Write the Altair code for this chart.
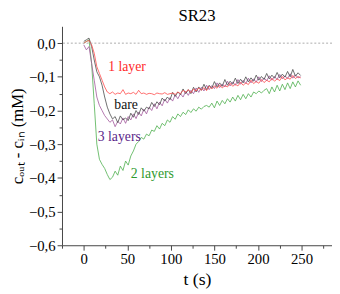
import altair as alt
import pandas as pd

t = list(range(0, 252, 3))

one_layer = [
    0.000, 0.005, 0.008, -0.005, -0.030, -0.070, -0.090, -0.110, -0.130, -0.145,
    -0.150, -0.145, -0.152, -0.148, -0.150, -0.138, -0.152, -0.148, -0.150, -0.146,
    -0.152, -0.140, -0.150, -0.148, -0.152, -0.149, -0.150, -0.153, -0.148, -0.150,
    -0.151, -0.147, -0.152, -0.150, -0.148, -0.152, -0.145, -0.150, -0.140, -0.146,
    -0.138, -0.147, -0.136, -0.142, -0.133, -0.140, -0.132, -0.141, -0.128, -0.136,
    -0.127, -0.134, -0.124, -0.133, -0.126, -0.130, -0.119, -0.128, -0.122, -0.127,
    -0.116, -0.125, -0.118, -0.123, -0.110, -0.120, -0.114, -0.119, -0.108, -0.117,
    -0.110, -0.115, -0.104, -0.113, -0.106, -0.111, -0.099, -0.109, -0.103, -0.107,
    -0.096, -0.105, -0.099, -0.103,
]

bare = [
    0.005, 0.010, 0.015, -0.010, -0.050, -0.085, -0.100, -0.125, -0.160, -0.190,
    -0.210, -0.225, -0.218, -0.236, -0.216, -0.228, -0.222, -0.230, -0.208, -0.220,
    -0.200, -0.212, -0.192, -0.202, -0.190, -0.195, -0.176, -0.188, -0.174, -0.183,
    -0.163, -0.172, -0.160, -0.168, -0.146, -0.158, -0.145, -0.153, -0.136, -0.150,
    -0.138, -0.150, -0.131, -0.145, -0.130, -0.140, -0.122, -0.138, -0.125, -0.134,
    -0.114, -0.130, -0.118, -0.128, -0.108, -0.125, -0.113, -0.122, -0.104, -0.120,
    -0.107, -0.118, -0.100, -0.115, -0.103, -0.113, -0.095, -0.110, -0.099, -0.108,
    -0.090, -0.106, -0.095, -0.104, -0.087, -0.103, -0.092, -0.101, -0.084, -0.100,
    -0.078, -0.098, -0.088, -0.096,
]

three_layers = [
    -0.005, -0.020, -0.010, -0.060, -0.110, -0.160, -0.185, -0.200, -0.215, -0.225,
    -0.235, -0.228, -0.248, -0.232, -0.240, -0.222, -0.238, -0.218, -0.228, -0.210,
    -0.224, -0.205, -0.216, -0.196, -0.210, -0.190, -0.200, -0.180, -0.195, -0.175,
    -0.186, -0.166, -0.178, -0.162, -0.172, -0.153, -0.165, -0.150, -0.160, -0.143,
    -0.155, -0.140, -0.150, -0.133, -0.146, -0.131, -0.142, -0.125, -0.138, -0.126,
    -0.135, -0.118, -0.132, -0.121, -0.130, -0.113, -0.127, -0.115, -0.125, -0.108,
    -0.122, -0.110, -0.120, -0.104, -0.118, -0.106, -0.116, -0.100, -0.114, -0.103,
    -0.112, -0.097, -0.110, -0.099, -0.108, -0.093, -0.106, -0.097, -0.105, -0.091,
    -0.104, -0.094, -0.103, -0.100,
]

two_layers = [
    0.000, 0.005, 0.010, -0.060, -0.180, -0.300, -0.345, -0.360, -0.372, -0.390,
    -0.405, -0.398, -0.380, -0.392, -0.365, -0.378, -0.350, -0.362, -0.335, -0.320,
    -0.300, -0.292, -0.280, -0.285, -0.270, -0.275, -0.258, -0.262, -0.245, -0.255,
    -0.238, -0.245, -0.228, -0.235, -0.218, -0.226, -0.210, -0.218, -0.205, -0.212,
    -0.198, -0.206, -0.195, -0.202, -0.190, -0.196, -0.188, -0.185, -0.190, -0.178,
    -0.192, -0.172, -0.185, -0.170, -0.180, -0.165, -0.175, -0.160, -0.172, -0.155,
    -0.168, -0.152, -0.165, -0.150, -0.160, -0.145, -0.150, -0.142, -0.148, -0.140,
    -0.135, -0.150, -0.130, -0.145, -0.125, -0.142, -0.122, -0.138, -0.118, -0.135,
    -0.115, -0.130, -0.112, -0.125,
]

series_names = ["2 layers", "3 layers", "bare", "1 layer"]
line_colors = ["#4caf4c", "#a2579c", "#4a4a4a", "#ff4a4a"]

label_text = ["1 layer", "bare", "3 layers", "2 layers"]
label_t = [28, 35, 16, 54]
label_v = [-0.072, -0.183, -0.278, -0.39]
label_colors = ["#ff2a2a", "#111111", "#5b1f88", "#2e9a2e"]

zero_line = [0.0]

rows = []
for name, vals in zip(series_names, [two_layers, three_layers, bare, one_layer]):
    for tt, vv in zip(t, vals):
        rows.append({"t": tt, "v": vv, "series": name})
df = pd.DataFrame(rows)

lab_df = pd.DataFrame({"t": label_t, "v": label_v, "text": label_text, "c": label_colors})
zero_df = pd.DataFrame({"v": zero_line})

FONT = "Liberation Serif"

xscale = alt.Scale(domain=[-25, 285], nice=False, zero=False)
yscale = alt.Scale(domain=[-0.6, 0.05], nice=False, zero=False)

x_ticks = [-25, 0, 25, 50, 75, 100, 125, 150, 175, 200, 225, 250, 275]
y_ticks = [-0.6, -0.55, -0.5, -0.45, -0.4, -0.35, -0.3, -0.25, -0.2, -0.15, -0.1, -0.05, 0.0]

common = dict(
    grid=False, labelOverlap=False,
    labelFont=FONT, labelFontSize=15, labelColor="#000",
    titleFont=FONT, titleFontWeight="normal", titleColor="#000",
    domainColor="#444", tickColor="#444", labelPadding=2,
)

xaxis = alt.Axis(
    values=x_ticks,
    labelExpr="datum.value % 50 != 0 ? '' : format(datum.value, 'd')",
    tickSize={"condition": {"test": "datum.value % 50 != 0", "value": 3}, "value": 5},
    title="t (s)", titlePadding=4, titleFontSize=18,
    **common,
)
yaxis = alt.Axis(
    values=y_ticks,
    labelExpr="round(datum.value * 20) % 2 != 0 ? '' : replace(format(datum.value, '.1f'), '.', ',')",
    tickSize={"condition": {"test": "round(datum.value * 20) % 2 != 0", "value": 3}, "value": 5},
    title="cₒᵤₜ - cᵢₙ (mM)", titlePadding=2, titleFontSize=17,
    **common,
)

zero = alt.Chart(zero_df).mark_rule(color="#aaaaaa", strokeDash=[2, 2], strokeWidth=1).encode(
    y=alt.Y("v:Q", scale=yscale, axis=yaxis)
)

lines = alt.Chart(df).mark_line(strokeWidth=0.8, clip=True).encode(
    x=alt.X("t:Q", scale=xscale, axis=xaxis),
    y=alt.Y("v:Q", scale=yscale, axis=yaxis),
    color=alt.Color("series:N", scale=alt.Scale(domain=series_names, range=line_colors), legend=None),
    order=alt.Order("t:Q"),
)

labels = alt.Chart(lab_df).mark_text(font=FONT, fontSize=14, align="left", baseline="middle").encode(
    x=alt.X("t:Q", scale=xscale, axis=xaxis),
    y=alt.Y("v:Q", scale=yscale, axis=yaxis),
    text="text:N",
    color=alt.Color("c:N", scale=None),
)

chart = alt.layer(lines, zero, labels).properties(
    width=275,
    height=223,
    title=alt.Title("SR23", font=FONT, fontSize=17, fontWeight="normal", color="#000", offset=1),
    autosize=alt.AutoSizeParams(type="none"),
    padding={"left": 55, "top": 16, "right": 0, "bottom": 47},
).configure(font=FONT).configure_view(stroke=None).configure_axis(
    labelFont=FONT, titleFont=FONT, labelOverlap=False,
)

chart.save("out.html", embed_options={"renderer": "svg", "actions": False})
